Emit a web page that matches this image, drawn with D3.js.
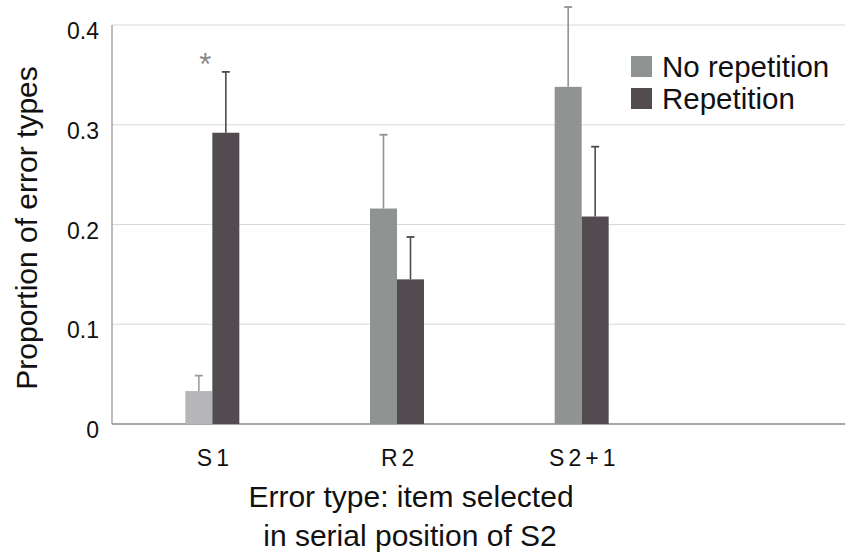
<!DOCTYPE html>
<html>
<head>
<meta charset="utf-8">
<script src="https://cdn.jsdelivr.net/npm/d3@7/dist/d3.min.js"></script>
<style>
  html, body { margin: 0; padding: 0; background: #fff; }
  svg { display: block; font-family: "Liberation Sans", Arial, Helvetica, sans-serif; }
</style>
</head>
<body>
<svg id="chart" width="845" height="552"></svg>
<script>
// Error categories and series
const categories = ["S 1", "R 2", "S 2 + 1"];
const seriesNames = ["No repetition", "Repetition"];
const noRepetition = [0.033, 0.216, 0.338];
const noRepetitionErr = [0.0155, 0.074, 0.080];
const repetition = [0.292, 0.145, 0.208];
const repetitionErr = [0.061, 0.0425, 0.070];
const yTicks = [0, 0.1, 0.2, 0.3, 0.4];
const yTickLabels = ["0", "0.1", "0.2", "0.3", "0.4"];
const significant = [true, false, false];

const svg = d3.select("#chart");
const plotLeft = 112, plotRight = 845, plotTop = 25, plotBottom = 424;

const y = d3.scaleLinear().domain([0, 0.4]).range([plotBottom, plotTop]);
const xGroup = d3.scaleBand().domain(categories).range([120, 674]).padding(0);
const xSeries = d3.scaleBand().domain(seriesNames).range([-27, 27]).padding(0);

const colors = { "No repetition": "#8f9493", "Repetition": "#524c50" };
const faintNoRep = "#b6b5b9";
const errColors = { "No repetition": "#8f9493", "Repetition": "#4f4a4d" };

// Gridlines
svg.append("g").selectAll("line").data(yTicks.filter(t => t > 0)).join("line")
  .attr("x1", plotLeft).attr("x2", plotRight)
  .attr("y1", d => y(d)).attr("y2", d => y(d))
  .attr("stroke", "#d9d9d9").attr("stroke-width", 1.2);

// Left axis line and baseline
svg.append("line").attr("x1", plotLeft).attr("x2", plotLeft)
  .attr("y1", y(0.4)).attr("y2", y(0)).attr("stroke", "#9a9a9a").attr("stroke-width", 1.3);
svg.append("line").attr("x1", plotLeft).attr("x2", plotRight)
  .attr("y1", y(0)).attr("y2", y(0)).attr("stroke", "#8a8a8a").attr("stroke-width", 1.3);

// Y tick labels
svg.append("g").selectAll("text").data(yTicks).join("text")
  .attr("x", 99).attr("y", d => y(d)).attr("dy", 14)
  .attr("text-anchor", "end").attr("font-size", 23).attr("fill", "#111")
  .text((d, i) => yTickLabels[i]);

// Build bar records
const records = [];
categories.forEach((c, i) => {
  records.push({ cat: c, idx: i, series: "No repetition", value: noRepetition[i], err: noRepetitionErr[i] });
  records.push({ cat: c, idx: i, series: "Repetition", value: repetition[i], err: repetitionErr[i] });
});

const barX = d => xGroup(d.cat) + xGroup.bandwidth() / 2 + xSeries(d.series);
const barW = xSeries.bandwidth();
const errStroke = d => (d.series === "No repetition" && d.idx === 0) ? "#9c9ca0" : errColors[d.series];

// Error bars (drawn under the bars so the stem starts at the bar top)
const eb = svg.append("g").selectAll("g").data(records).join("g");
eb.append("line")
  .attr("x1", d => barX(d) + barW / 2).attr("x2", d => barX(d) + barW / 2)
  .attr("y1", d => y(d.value)).attr("y2", d => y(d.value + d.err))
  .attr("stroke", errStroke).attr("stroke-width", 1.6);
eb.append("line")
  .attr("x1", d => barX(d) + barW / 2 - 4).attr("x2", d => barX(d) + barW / 2 + 4)
  .attr("y1", d => y(d.value + d.err)).attr("y2", d => y(d.value + d.err))
  .attr("stroke", errStroke).attr("stroke-width", 1.8);

// Bars
svg.append("g").selectAll("rect").data(records).join("rect")
  .attr("x", barX).attr("width", barW)
  .attr("y", d => y(d.value)).attr("height", d => y(0) - y(d.value))
  .attr("fill", d => (d.series === "No repetition" && d.idx === 0) ? faintNoRep : colors[d.series]);

// Significance marker
svg.append("g").selectAll("text").data(categories.filter((c, i) => significant[i])).join("text")
  .attr("x", c => xGroup(c) + xGroup.bandwidth() / 2 - 7)
  .attr("y", c => { const i = categories.indexOf(c); return y(repetition[i] + repetitionErr[i]) + 3; })
  .attr("text-anchor", "middle").attr("font-size", 31).attr("fill", "#8a8a8a")
  .text("*");

// Category labels
svg.append("g").selectAll("text").data(categories).join("text")
  .attr("x", c => xGroup(c) + xGroup.bandwidth() / 2)
  .attr("y", 466)
  .attr("text-anchor", "middle").attr("font-size", 23).attr("letter-spacing", -1.2)
  .attr("fill", "#111")
  .text(c => c);

// Axis titles
svg.append("text").attr("x", 411).attr("y", 507).attr("text-anchor", "middle")
  .attr("font-size", 30).attr("fill", "#111")
  .text("Error type: item selected");
svg.append("text").attr("x", 410).attr("y", 546).attr("text-anchor", "middle")
  .attr("font-size", 30).attr("fill", "#111")
  .text("in serial position of S2");
svg.append("text").attr("transform", "translate(37,228) rotate(-90)")
  .attr("text-anchor", "middle").attr("font-size", 30)
  .attr("fill", "#111")
  .text("Proportion of error types");

// Legend
const legend = svg.append("g").selectAll("g").data(seriesNames).join("g")
  .attr("transform", (d, i) => `translate(631,${56 + i * 32})`);
legend.append("rect").attr("width", 21).attr("height", 21).attr("fill", d => colors[d]);
legend.append("text").attr("x", 31).attr("y", 21).attr("font-size", 29.5)
  .attr("fill", "#111").text(d => d);
</script>
</body>
</html>
